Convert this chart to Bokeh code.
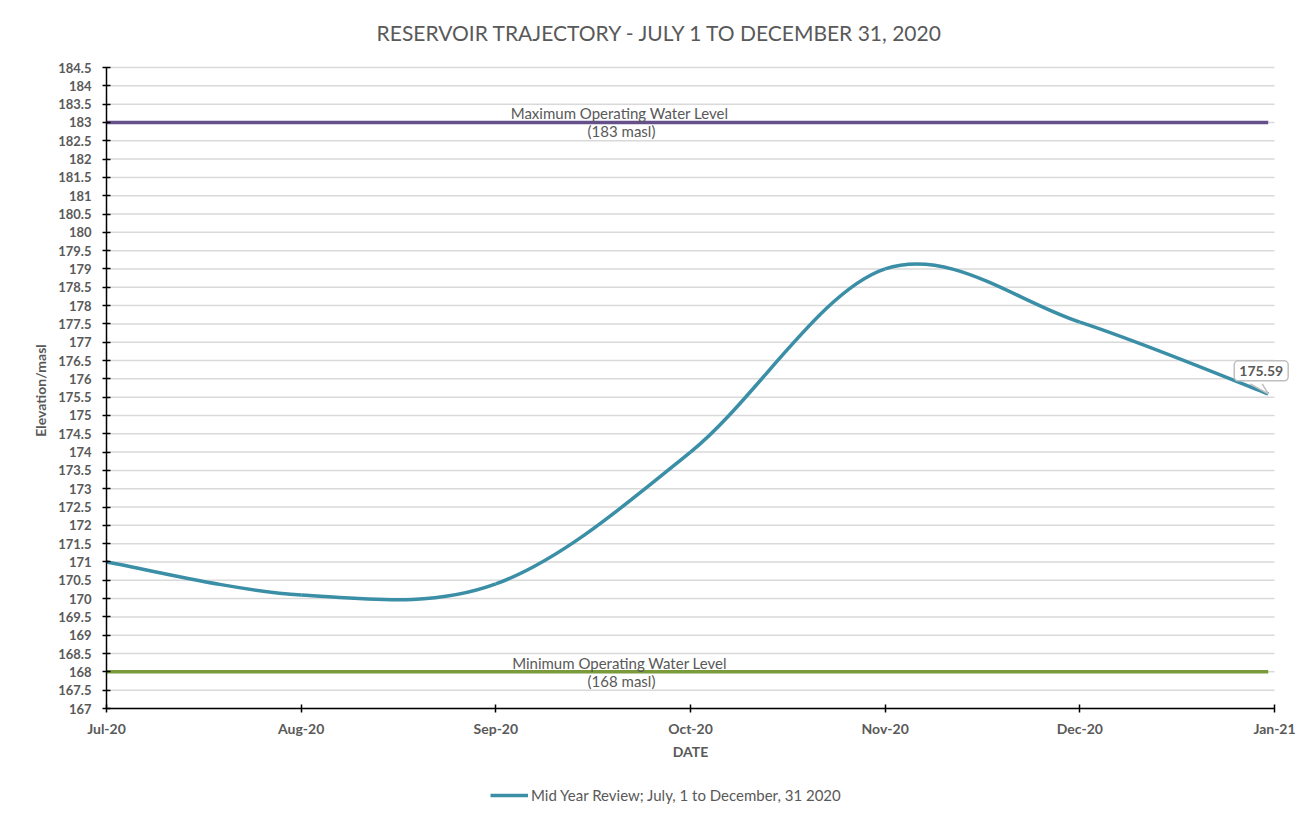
import math
import datetime as dt
import calendar
import numpy as np
from bokeh.plotting import figure
from bokeh.models import (FixedTicker, Label, Legend, LegendItem, ColumnDataSource,
                          NumeralTickFormatter)
from bokeh.embed import file_html
from bokeh.resources import INLINE

# ---------------- data ----------------
dates = ["2020-07-01", "2020-08-01", "2020-09-01", "2020-10-01",
         "2020-11-01", "2020-12-01", "2020-12-31"]
elevation = [171.0, 170.1, 170.4, 174.0, 179.0, 177.55, 175.59]
month_ticks = ["Jul-20", "Aug-20", "Sep-20", "Oct-20", "Nov-20", "Dec-20", "Jan-21"]
level_dates = ["2020-07-01", "2020-12-31"]
max_level = 183
min_level = 168
y_min, y_max, y_step = 167, 184.5, 0.5
series_name = "Mid Year Review; July, 1 to December, 31 2020"
max_text = ["Maximum Operating  Water Level", "(183 masl)"]
min_text = ["Minimum Operating  Water Level", "(168 masl)"]
title_text = "RESERVOIR TRAJECTORY - JULY 1 TO DECEMBER 31, 2020"
y_title = "Elevation/masl"
x_title = "DATE"

# ---------------- layout geometry (pixels) ----------------
W, H = 1298, 804
PX_L, PX_R = 106, 1274      # Jul-20 .. Jan-21
PX_T, PX_B = 67, 708        # 184.5 .. 167
NM = len(month_ticks) - 1
ppm = (PX_R - PX_L) / NM
ppu = (PX_B - PX_T) / (y_max - y_min)


def fx(px):  # pixel -> x data
    return (px - PX_L) / ppm


def fy(py):  # pixel -> y data
    return y_max - (py - PX_T) / ppu


START = dt.date(2020, 7, 1)


def month_pos(s):
    d = dt.date.fromisoformat(s)
    m = (d.year - START.year) * 12 + (d.month - START.month)
    return m + (d.day - 1) / calendar.monthrange(d.year, d.month)[1]


xs = [month_pos(d) for d in dates]
ys = elevation

# Excel-style smoothed line: cubic Bezier segments (Catmull-Rom control points)
P = list(zip(xs, ys))
n = len(P)
seg = dict(x0=[], y0=[], x1=[], y1=[], cx0=[], cy0=[], cx1=[], cy1=[])
for i in range(n - 1):
    p0 = P[i - 1] if i > 0 else P[i]
    p1 = P[i]
    p2 = P[i + 1]
    p3 = P[i + 2] if i + 2 < n else P[i + 1]
    seg["x0"].append(p1[0]); seg["y0"].append(p1[1])
    seg["x1"].append(p2[0]); seg["y1"].append(p2[1])
    seg["cx0"].append(p1[0] + (p2[0] - p0[0]) / 6)
    seg["cy0"].append(p1[1] + (p2[1] - p0[1]) / 6)
    seg["cx1"].append(p2[0] - (p3[0] - p1[0]) / 6)
    seg["cy1"].append(p2[1] - (p3[1] - p1[1]) / 6)
src = ColumnDataSource(seg)

GREY = "#595959"
FONT = "Lato"
TEAL = "#3a8ea6"
PURPLE = "#66508a"
GREEN = "#7a9a3c"

p = figure(width=W, height=H, title=None,
           x_range=(fx(0), fx(W)), y_range=(fy(H), fy(0)),
           output_backend="svg", toolbar_location=None,
           min_border_left=0, min_border_right=0, min_border_top=0,
           min_border_bottom=0)
p.outline_line_color = None
p.background_fill_color = "white"
p.border_fill_color = "white"

# grid lines (only across the month span)
yticks = list(np.arange(y_min, y_max + 1e-9, y_step))
p.xgrid.grid_line_color = None
p.ygrid.grid_line_color = None
p.segment(x0=0, x1=NM, y0=yticks, y1=yticks, line_color="#d9d9d9", line_width=1.5)

p.yaxis.ticker = FixedTicker(ticks=yticks)
p.yaxis.formatter = NumeralTickFormatter(format="0.[0]")
p.yaxis.bounds = (y_min, y_max)
p.yaxis.fixed_location = 0
p.xaxis.ticker = FixedTicker(ticks=list(range(len(month_ticks))))
p.xaxis.major_label_overrides = {i: lab for i, lab in enumerate(month_ticks)}
p.xaxis.bounds = (0, NM)
p.xaxis.fixed_location = y_min

for ax in (p.xaxis[0], p.yaxis[0]):
    ax.axis_line_color = "black"
    ax.axis_line_width = 1.5
    ax.major_tick_line_color = "black"
    ax.major_tick_line_width = 1.5
    ax.major_tick_in = 4
    ax.major_tick_out = 4
    ax.minor_tick_line_color = None
    ax.major_label_text_font = FONT
    ax.major_label_text_font_style = "bold"
    ax.major_label_text_color = GREY
    ax.axis_label_text_font = FONT
    ax.axis_label_text_font_size = "14px"
    ax.axis_label_text_font_style = "bold"
    ax.axis_label_text_color = GREY

p.yaxis.major_label_text_font_size = "13px"
p.xaxis.major_label_text_font_size = "14px"
p.yaxis.major_label_standoff = 11
p.xaxis.major_label_standoff = 7
p.xaxis.axis_label = x_title
p.xaxis.axis_label_standoff = 3

# y axis title
p.add_layout(Label(x=fx(40), y=fy(390), text=y_title, angle=math.pi / 2,
                   text_align="center", text_baseline="middle", text_font=FONT,
                   text_font_size="14px", text_font_style="bold", text_color=GREY))

# operating levels
lx = [month_pos(d) for d in level_dates]
p.line(lx, [max_level] * len(lx), line_color=PURPLE, line_width=3.5)
p.line(lx, [min_level] * len(lx), line_color=GREEN, line_width=3.5)

# trajectory
r = p.bezier(x0="x0", y0="y0", x1="x1", y1="y1", cx0="cx0", cy0="cy0",
             cx1="cx1", cy1="cy1", source=src, line_color=TEAL, line_width=3.5)

# level labels
LX = fx(621)
for lvl, (t1, t2) in ((max_level, max_text), (min_level, min_text)):
    p.add_layout(Label(x=LX, y=lvl, text=t1, text_align="center", text_baseline="bottom",
                       y_offset=0, text_font=FONT, text_font_size="15px", text_color=GREY))
    p.add_layout(Label(x=LX, y=lvl, text=t2, text_align="center", text_baseline="top",
                       y_offset=0, text_font=FONT, text_font_size="15px", text_color=GREY))

# data label callout with pointer
p.add_layout(Label(x=xs[-1], y=ys[-1], text=f"{ys[-1]:.2f}", text_align="center",
                   text_baseline="bottom", y_offset=13, x_offset=-7,
                   text_font=FONT, text_font_size="14px", text_font_style="bold",
                   text_color=GREY, border_line_color="#bfbfbf", border_line_width=1.5,
                   background_fill_color="white", padding=5, border_radius=4))
ex, ey = xs[-1], ys[-1]
tail = p.patch([ex - 19.5 / ppm, ex - 5 / ppm, ex], [ey + 11.5 / ppu, ey + 11.5 / ppu, ey],
               fill_color="white", line_color=None, level="overlay")
p.line([ex - 18 / ppm, ex], [ey + 10 / ppu, ey], line_color="#bfbfbf", line_width=1.5,
       level="overlay")
p.line([ex - 6 / ppm, ex], [ey + 10 / ppu, ey], line_color="#bfbfbf", line_width=1.5,
       level="overlay")

# title
p.add_layout(Label(x=fx(660), y=fy(32), text=title_text, text_align="center",
                   text_baseline="middle", text_font=FONT, text_font_size="21px",
                   text_color=GREY))

# legend (location is relative to the frame, which spans the whole canvas)
legend = Legend(items=[LegendItem(label=series_name, renderers=[r])],
                location=(490, 0), orientation="horizontal",
                border_line_color=None, background_fill_alpha=0,
                label_text_font=FONT, label_text_font_size="15px",
                label_text_color=GREY, glyph_width=38, glyph_height=14,
                padding=0, margin=0, label_standoff=3)
p.add_layout(legend, "center")

open("out.html", "w").write(file_html(p, INLINE))
